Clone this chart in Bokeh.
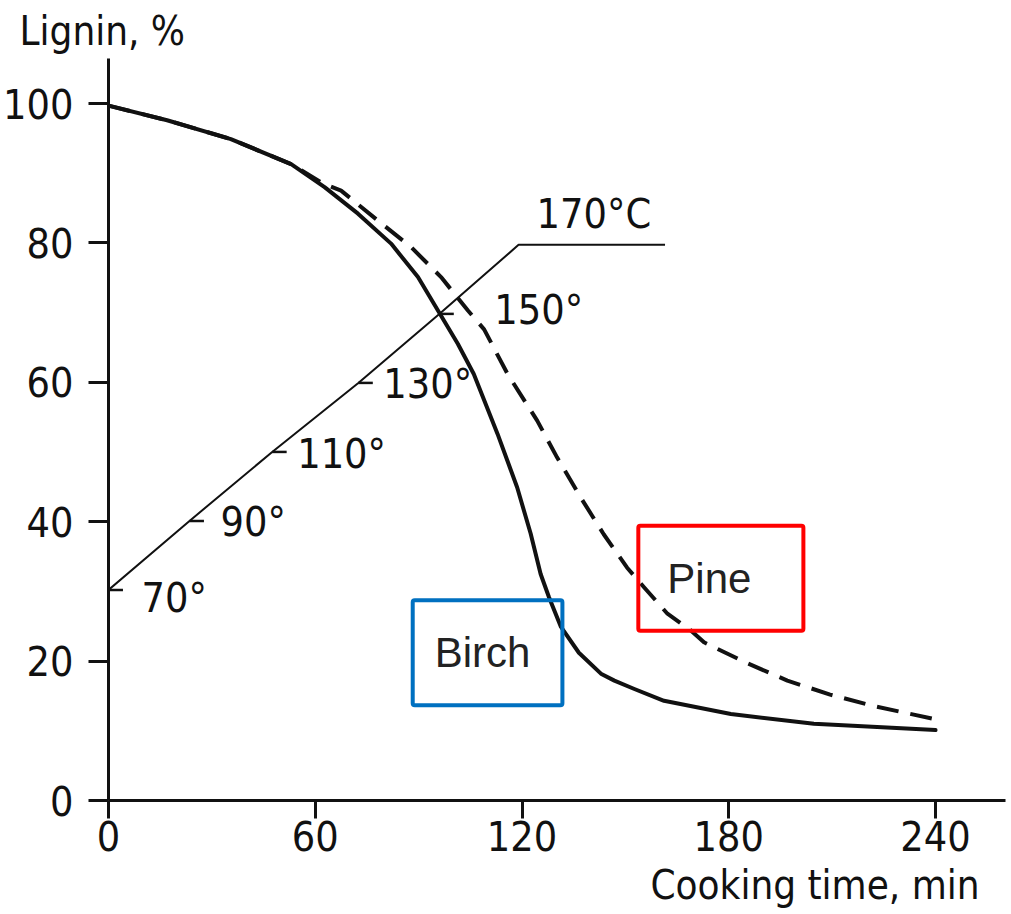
from bokeh.plotting import figure
from bokeh.models import Range1d, FixedTicker, Label, Title
from bokeh.core.properties import value
from bokeh.embed import file_html
from bokeh.resources import INLINE

# ---- data ----
birch_time = [0, 17, 35.5, 53, 62.7, 72.4, 82, 89.8, 95.6, 101.4, 106, 112.9,
              118.6, 122.5, 125.4, 127.8, 131.3, 136.5, 142.9, 146.8, 152.6,
              161.2, 180.6, 204.7, 240]
birch_lignin = [99.7, 97.6, 94.9, 91.3, 88.0, 84.2, 79.9, 75.1, 70.3, 65.5, 61.2,
                52.6, 44.9, 38.3, 32.5, 29.2, 24.9, 21.2, 18.2, 17.2, 16.0,
                14.3, 12.4, 11.0, 10.1]

pine_time = [0, 17, 35.5, 53, 62, 67.5, 78.2, 87.8, 96.5, 104.3, 109, 115.8,
             124.4, 130.2, 137, 143.7, 150.5, 155.4, 162.2, 169, 172.8, 184.9,
             197, 209.4, 221.6, 239.5]
pine_lignin = [99.7, 97.6, 94.9, 91.3, 88.6, 87.5, 83.2, 79.4, 75.1, 70.3, 67.6,
               61.2, 54.5, 49.2, 43.5, 38.2, 33.4, 30.6, 26.8, 24.4, 22.7, 19.8,
               17.2, 15.2, 13.6, 11.7]

temp_time = [0, 23.5, 47.5, 72.5, 96, 119, 161.5]
temp_deg = [70, 90, 110, 130, 150, 170, 170]
temp_labels = ["70°", "90°", "110°", "130°", "150°", "170°C"]

x_ticks = [0, 60, 120, 180, 240]
y_ticks = [0, 20, 40, 60, 80, 100]

series_names = ["Birch", "Pine"]
label_pos_time = [110.0, 177.7]
label_pos_lignin = [21.2, 31.9]

# ---- styling ----
COND = "'DejaVu Sans Condensed', 'DejaVu Sans', sans-serif"
INK = "#111111"

p = figure(width=1011, height=914, output_backend="svg", toolbar_location=None,
           x_range=Range1d(0, 260.3), y_range=Range1d(0, 106.46),
           min_border_left=107, min_border_right=6, min_border_top=58,
           min_border_bottom=114)
p.extra_y_ranges = {"temp": Range1d(9, 224)}
p.grid.visible = False
p.outline_line_color = None
p.background_fill_color = "white"
p.border_fill_color = "white"

for ax, ticks, tick_out, standoff in ((p.xaxis[0], x_ticks, 18, 2),
                                      (p.yaxis[0], y_ticks, 20, 15)):
    ax.ticker = FixedTicker(ticks=ticks)
    ax.axis_line_width = 3
    ax.axis_line_color = INK
    ax.major_tick_line_width = 3
    ax.major_tick_line_color = INK
    ax.major_tick_out = tick_out
    ax.major_tick_in = 0
    ax.minor_tick_line_color = None
    ax.major_label_text_font = COND
    ax.major_label_text_font_size = "41px"
    ax.major_label_text_color = INK
    ax.major_label_standoff = standoff

# curves
p.line(birch_time, birch_lignin, line_width=4, line_color=INK,
       line_join="round", line_cap="round")
p.line(pine_time, pine_lignin, line_width=4, line_color=INK,
       line_dash="22 12", line_join="round")

# temperature program
p.line(temp_time, temp_deg, y_range_name="temp", line_width=2, line_color=INK)
n = 5
tick_len = 4.2  # minutes (~14 px)
p.segment(x0=temp_time[:n], y0=temp_deg[:n],
          x1=[t + tick_len for t in temp_time[:n]], y1=temp_deg[:n],
          y_range_name="temp", line_width=2.5, line_color=INK)
p.text(x=temp_time[:6], y=temp_deg[:6], text=temp_labels,
       x_offset=[33, 31, 25, 25, 55, 18], y_offset=[8, 1, 2, 1, -4, -31],
       y_range_name="temp", text_font=value(COND), text_font_size="41px",
       text_color=INK, text_align="left", text_baseline="middle")

# axis titles
p.add_layout(Title(text="Lignin, %", align="left", offset=-89, standoff=9,
                   text_font=COND, text_font_size="40px", text_font_style="normal",
                   text_color=INK), "above")
p.add_layout(Title(text="Cooking time, min", align="right", offset=26, standoff=12,
                   text_font=COND, text_font_size="40px", text_font_style="normal",
                   text_color=INK), "below")

# boxed series names
box_colors = ["#0070C0", "#FF0000"]
paddings = [dict(left=22, right=32, top=29, bottom=29),
            dict(left=29, right=52, top=29, bottom=29)]
for name, tx, ly, col, pad in zip(series_names, label_pos_time, label_pos_lignin,
                                  box_colors, paddings):
    p.add_layout(Label(x=tx, y=ly, text=name, text_font="Liberation Sans",
                       text_font_size="42px", text_color="#222222",
                       text_align="center", text_baseline="middle",
                       border_line_color=col, border_line_width=4,
                       border_radius=2, padding=pad))

open("out.html", "w").write(file_html(p, INLINE))
